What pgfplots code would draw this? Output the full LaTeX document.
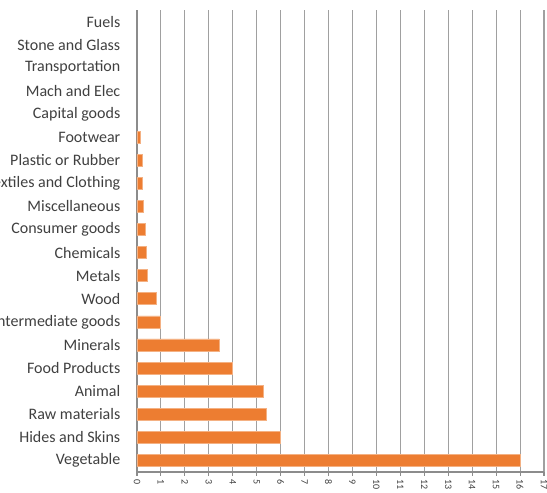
\documentclass[border=0pt]{standalone}
\usepackage{pgfplots}
\pgfplotsset{compat=1.18}
\usepackage{fontspec}
\setmainfont{Carlito}
\definecolor{barorange}{RGB}{237,125,49}
\definecolor{gridgray}{RGB}{160,160,160}
\definecolor{axgray}{RGB}{140,140,140}
\definecolor{labgray}{RGB}{64,64,64}
\begin{document}
\begin{tikzpicture}
\path[use as bounding box, clip] (-102.75pt,-15.75pt) rectangle (307.5pt,354pt);
\begin{axis}[
  at={(0,0)}, anchor=south west,
  scale only axis,
  width=305.25pt, height=346.5pt,
  xbar, bar width=9pt,
  xmin=0, xmax=17,
  ymin=-0.5, ymax=19.5,
  xtick={0,1,...,17},
  ytick={0,1,...,19},
  yticklabels={Vegetable,Hides and Skins,Raw materials,Animal,Food Products,Minerals,Intermediate goods,Wood,Metals,Chemicals,Consumer goods,Miscellaneous,Textiles and Clothing,Plastic or Rubber,Footwear,Capital goods,Mach and Elec,Transportation,Stone and Glass,Fuels},
  minor ytick={-0.5,0.5,...,19.5},
  axis x line*=bottom, axis y line*=left,
  axis line style={axgray, line width=1pt, -},
  xmajorgrids, major grid style={gridgray, line width=0.8pt},
  tick align=outside,
  ytick style={draw=none},
  minor tick length=3pt,
  minor tick style={axgray, line width=0.8pt},
  xtick style={axgray, line width=0.8pt},
  major tick length=3pt,
  yticklabel style={font=\fontsize{12}{14}\selectfont, text=labgray, xshift=-6pt},
  xticklabel style={font=\fontsize{7.5}{9}\selectfont, text=labgray, rotate=-90, anchor=west, xshift=-1pt},
  /pgf/number format/assume math mode=true,
  clip=false,
]
\addplot[fill=barorange, draw=barorange!60!white, line width=0.4pt] coordinates {
(16,0) (6.0,1) (5.42,2) (5.28,3) (4.0,4) (3.44,5) (0.96,6) (0.82,7) (0.43,8) (0.38,9)
(0.33,10) (0.27,11) (0.24,12) (0.21,13) (0.12,14)
};
\end{axis}
\end{tikzpicture}
\end{document}
